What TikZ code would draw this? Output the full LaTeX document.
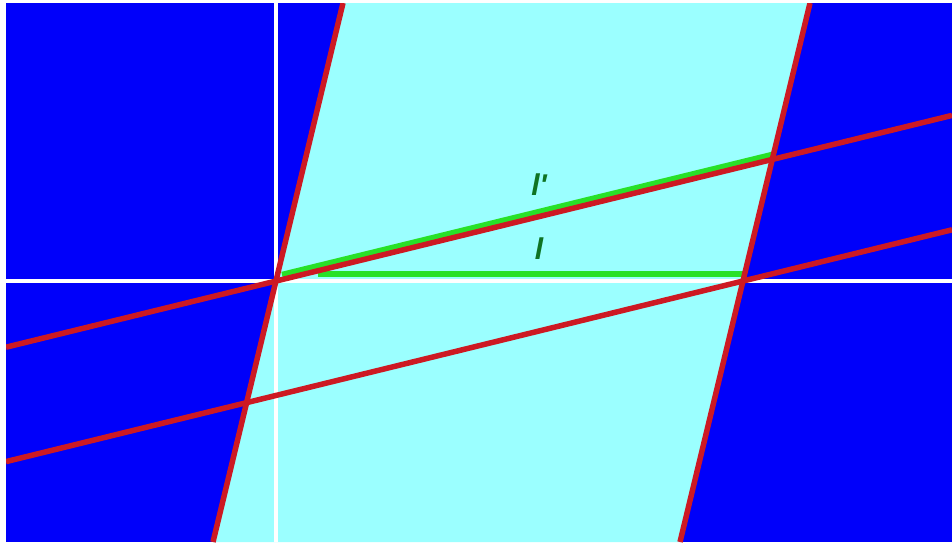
\documentclass[tikz,border=0pt]{standalone}
\usepackage{fontspec}
\setmainfont{Liberation Sans}
\definecolor{bgblue}{RGB}{0,0,250}
\definecolor{stripcyan}{RGB}{155,255,255}
\definecolor{lnred}{RGB}{205,25,35}
\definecolor{lngreen}{RGB}{40,225,40}
\definecolor{lbgreen}{RGB}{15,115,35}

\begin{document}
\begin{tikzpicture}[
  x=1pt, y=-1pt,
  redline/.style={draw=lnred, line width=5.5pt},
  axis/.style={draw=white, line width=4pt},
  seg/.style={draw=lngreen, line width=5.5pt},
  lbl/.style={text=lbgreen, font=\fontsize{30}{30}\selectfont\bfseries\itshape, inner sep=0pt}
]
\useasboundingbox (0,0) rectangle (952,542);
\fill[white] (0,0) rectangle (952,542);
\fill[bgblue] (6,3) rectangle (952,542);
\begin{scope}
\clip (6,3) rectangle (952,542);
% strip between the steep lines
\fill[stripcyan] (343,3) -- (810,3) -- (680,542) -- (213,542) -- cycle;
% axes
\draw[axis] (6,281) -- (952,281);
\draw[axis] (276,3) -- (276,542);
% segments l and l'
\draw[seg] (318,274) -- (745,274);
\draw[seg] (282,274.5) -- (772,154.5);
% steep lines
\draw[redline] (343,3) -- (213,542);
\draw[redline] (810,3) -- (680,542);
% shallow lines
\draw[redline] (6,347.2) -- (952,115.4);
\draw[redline] (6,461.6) -- (952,229.8);
\end{scope}
\node[lbl] (lprime) at (539,185) {l\textquotesingle};
\node[lbl] (lbase) at (539,249) {l};
\end{tikzpicture}
\end{document}
